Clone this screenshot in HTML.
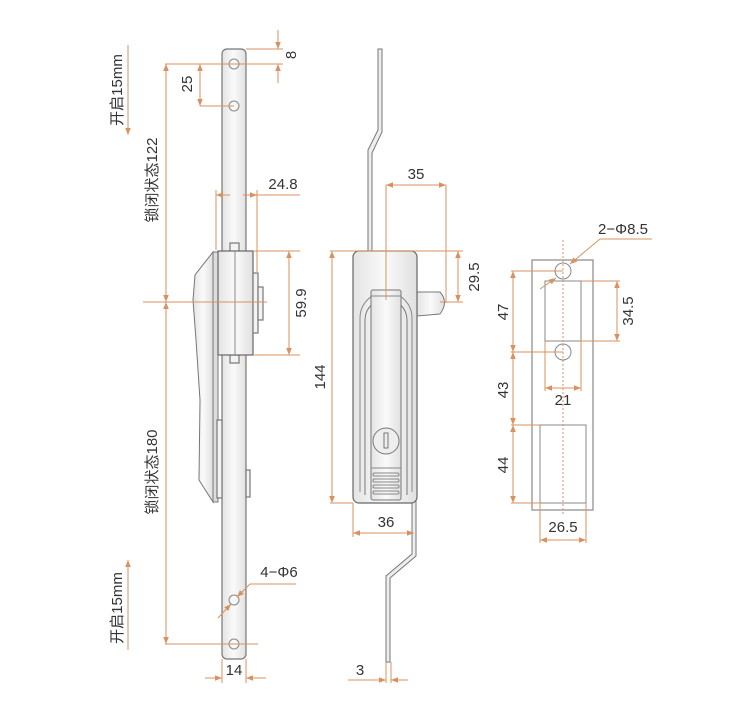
<!DOCTYPE html>
<html><head><meta charset="utf-8"><style>
html,body{margin:0;padding:0;background:#fff;}
svg{display:block;}
text{font-family:"Liberation Sans","Noto Sans CJK SC",sans-serif;fill:#333;font-size:15px;}
.d{stroke:#d9925f;stroke-width:1;fill:none;}
.o{stroke:#777;stroke-width:1.2;fill:#f3f3f3;}
.l{stroke:#888;stroke-width:1;fill:none;}
</style></head><body>
<svg width="750" height="726" viewBox="0 0 750 726" xmlns="http://www.w3.org/2000/svg">
<defs>
<marker id="a" viewBox="0 0 10 10" refX="10" refY="5" markerWidth="11" markerHeight="7" markerUnits="userSpaceOnUse" orient="auto-start-reverse"><path d="M0,1 L10,5 L0,9z" fill="#d9925f"/></marker>
<linearGradient id="g" x1="0" x2="1"><stop offset="0" stop-color="#e4e4e4"/><stop offset="0.5" stop-color="#fafafa"/><stop offset="1" stop-color="#e0e0e0"/></linearGradient>
</defs>

<!-- LEFT VIEW -->
<rect x="222" y="49" width="24" height="610" rx="5" fill="url(#g)" stroke="#777" stroke-width="1.2"/>
<circle cx="234" cy="64" r="5" class="l"/>
<circle cx="234" cy="106" r="5" class="l"/>
<circle cx="234" cy="600" r="5" class="l"/>
<circle cx="234" cy="644" r="5" class="l"/>
<path d="M213,252 L195,275 L193,300 L196,340 L200,400 L199,480 L213,502 Z" fill="url(#g)" stroke="#777"/>
<rect x="213" y="252" width="5" height="250" fill="#ddd" stroke="#777"/>
<rect x="230" y="243" width="9" height="9" class="o"/>
<rect x="230" y="355" width="9" height="8" class="o"/>
<rect x="218" y="251" width="35" height="104" fill="url(#g)" stroke="#666" stroke-width="1.2"/>
<line x1="235" y1="251" x2="235" y2="355" class="l"/>
<rect x="253" y="273" width="5" height="60" class="o"/>
<rect x="258" y="287" width="5" height="33" class="o"/>
<rect x="217" y="420" width="5" height="78" class="o"/>
<rect x="246" y="470" width="4" height="27" class="o"/>

<!-- left dims -->
<line x1="246" y1="49" x2="283" y2="49" class="d"/>
<line x1="165" y1="64" x2="283" y2="64" class="d"/>
<line x1="278" y1="30" x2="278" y2="49" class="d" marker-end="url(#a)"/>
<line x1="278" y1="83" x2="278" y2="64" class="d" marker-end="url(#a)"/>
<text transform="translate(296,55) rotate(-90)" text-anchor="middle">8</text>
<line x1="200" y1="106" x2="234" y2="106" class="d"/>
<line x1="200" y1="64" x2="200" y2="106" class="d" marker-start="url(#a)" marker-end="url(#a)"/>
<text transform="translate(192,84) rotate(-90)" text-anchor="middle">25</text>
<line x1="128" y1="45" x2="128" y2="135" class="d" marker-end="url(#a)"/>
<text transform="translate(122,90) rotate(-90)" text-anchor="middle">开启15mm</text>
<line x1="128" y1="650" x2="128" y2="560" class="d" marker-end="url(#a)"/>
<text transform="translate(122,608) rotate(-90)" text-anchor="middle">开启15mm</text>
<line x1="166" y1="64" x2="166" y2="302" class="d" marker-start="url(#a)" marker-end="url(#a)"/>
<line x1="166" y1="302" x2="166" y2="644" class="d" marker-start="url(#a)" marker-end="url(#a)"/>
<text transform="translate(157,180) rotate(-90)" text-anchor="middle">锁闭状态122</text>
<text transform="translate(157,472) rotate(-90)" text-anchor="middle">锁闭状态180</text>
<line x1="143" y1="302" x2="267" y2="302" class="d"/>
<line x1="165" y1="644" x2="258" y2="644" class="d"/>
<line x1="216" y1="190" x2="216" y2="250" class="d"/>
<line x1="257" y1="190" x2="257" y2="272" class="d"/>
<line x1="230" y1="195" x2="216" y2="195" class="d" marker-end="url(#a)"/>
<line x1="243" y1="195" x2="257" y2="195" class="d" marker-end="url(#a)"/>
<line x1="257" y1="195" x2="300" y2="195" class="d"/>
<text x="283" y="189" text-anchor="middle">24.8</text>
<line x1="253" y1="251" x2="300" y2="251" class="d"/>
<line x1="253" y1="355" x2="300" y2="355" class="d"/>
<line x1="289" y1="251" x2="289" y2="355" class="d" marker-start="url(#a)" marker-end="url(#a)"/>
<text transform="translate(306,303) rotate(-90)" text-anchor="middle">59.9</text>
<line x1="222" y1="659" x2="222" y2="683" class="d"/>
<line x1="246" y1="659" x2="246" y2="683" class="d"/>
<line x1="205" y1="678" x2="222" y2="678" class="d" marker-end="url(#a)"/>
<line x1="266" y1="678" x2="246" y2="678" class="d" marker-end="url(#a)"/>
<text x="234" y="675" text-anchor="middle">14</text>
<line x1="296" y1="584" x2="250" y2="584" class="d"/>
<line x1="250" y1="584" x2="237" y2="597" class="d" marker-end="url(#a)"/>
<line x1="218" y1="618" x2="231" y2="604" class="d" marker-end="url(#a)"/>
<text x="279" y="577" text-anchor="middle">4−Φ6</text>

<!-- MIDDLE VIEW -->
<path d="M378,49 L382,49 L382,132 L372,153 L372,252 L368,252 L368,150 L378,130 Z" fill="#eee" stroke="#777"/>
<path d="M412,500 L416,500 L416,556 L390,578 L390,662 L386,662 L386,576 L412,554 Z" fill="#eee" stroke="#777"/>
<path d="M417,292 L440,292 Q449,302 440,314 L417,316 Z" fill="url(#g)" stroke="#777"/>
<rect x="353" y="251" width="64" height="252" rx="6" fill="url(#g)" stroke="#666" stroke-width="1.2"/>
<path d="M360,492 L360,318 A26,26 0 1 1 412,318 L412,492" fill="none" stroke="#888"/>
<path d="M365,495 L365,320 A21,21 0 1 1 407,320 L407,495" fill="none" stroke="#777"/>
<rect x="371" y="290" width="30" height="210" rx="2" fill="url(#g)" stroke="#777"/>
<line x1="371" y1="296" x2="401" y2="296" class="l"/>
<line x1="371" y1="468" x2="401" y2="468" class="l"/>
<circle cx="386" cy="441" r="13" fill="#eee" stroke="#777"/>
<rect x="384" y="433" width="4" height="15" fill="none" stroke="#777"/>
<g stroke="#888" fill="none"><rect x="373" y="473" width="26" height="3" rx="1.5"/><rect x="373" y="479" width="26" height="3" rx="1.5"/><rect x="373" y="485" width="26" height="3" rx="1.5"/><rect x="373" y="491" width="26" height="3" rx="1.5"/></g>

<line x1="386" y1="185" x2="386" y2="300" class="d"/>
<line x1="446" y1="185" x2="446" y2="303" class="d"/>
<line x1="386" y1="185" x2="446" y2="185" class="d" marker-start="url(#a)" marker-end="url(#a)"/>
<text x="416" y="179" text-anchor="middle">35</text>
<line x1="330" y1="251" x2="463" y2="251" class="d"/>
<line x1="440" y1="302" x2="463" y2="302" class="d"/>
<line x1="458" y1="251" x2="458" y2="302" class="d" marker-start="url(#a)" marker-end="url(#a)"/>
<text transform="translate(479,277) rotate(-90)" text-anchor="middle">29.5</text>
<line x1="332" y1="251" x2="332" y2="503" class="d" marker-start="url(#a)" marker-end="url(#a)"/>
<line x1="330" y1="503" x2="353" y2="503" class="d"/>
<text transform="translate(325,377) rotate(-90)" text-anchor="middle">144</text>
<line x1="353" y1="503" x2="353" y2="537" class="d"/>
<line x1="353" y1="533" x2="414" y2="533" class="d" marker-start="url(#a)" marker-end="url(#a)"/>
<text x="386" y="527" text-anchor="middle">36</text>
<line x1="386" y1="662" x2="386" y2="683" class="d"/>
<line x1="391" y1="662" x2="391" y2="683" class="d"/>
<line x1="348" y1="680" x2="386" y2="680" class="d" marker-end="url(#a)"/>
<line x1="408" y1="680" x2="391" y2="680" class="d" marker-end="url(#a)"/>
<text x="360" y="675" text-anchor="middle">3</text>

<!-- RIGHT VIEW -->
<rect x="532" y="260" width="61" height="250" fill="#fff" stroke="#888" stroke-width="1.2"/>
<rect x="545" y="281" width="36" height="60" fill="#fff" stroke="#888"/>
<rect x="540" y="425" width="46" height="78" fill="#fff" stroke="#888"/>
<line x1="563" y1="240" x2="563" y2="515" class="d" stroke-dasharray="2,2"/>
<circle cx="563" cy="271" r="8" fill="none" stroke="#888"/>
<circle cx="563" cy="352" r="8" fill="none" stroke="#888"/>
<line x1="511" y1="271" x2="563" y2="271" class="d"/>
<line x1="511" y1="352" x2="563" y2="352" class="d"/>
<line x1="511" y1="425" x2="540" y2="425" class="d"/>
<line x1="511" y1="503" x2="540" y2="503" class="d"/>
<line x1="513" y1="271" x2="513" y2="352" class="d" marker-start="url(#a)" marker-end="url(#a)"/>
<line x1="513" y1="352" x2="513" y2="425" class="d" marker-start="url(#a)" marker-end="url(#a)"/>
<line x1="513" y1="425" x2="513" y2="503" class="d" marker-start="url(#a)" marker-end="url(#a)"/>
<text transform="translate(508,312) rotate(-90)" text-anchor="middle">47</text>
<text transform="translate(508,390) rotate(-90)" text-anchor="middle">43</text>
<text transform="translate(508,465) rotate(-90)" text-anchor="middle">44</text>
<line x1="581" y1="281" x2="620" y2="281" class="d"/>
<line x1="581" y1="341" x2="620" y2="341" class="d"/>
<line x1="617" y1="281" x2="617" y2="341" class="d" marker-start="url(#a)" marker-end="url(#a)"/>
<text transform="translate(633,311) rotate(-90)" text-anchor="middle">34.5</text>
<line x1="545" y1="341" x2="545" y2="391" class="d"/>
<line x1="581" y1="341" x2="581" y2="391" class="d"/>
<line x1="545" y1="388" x2="581" y2="388" class="d" marker-start="url(#a)" marker-end="url(#a)"/>
<text x="563" y="405" text-anchor="middle">21</text>
<line x1="540" y1="503" x2="540" y2="543" class="d"/>
<line x1="586" y1="503" x2="586" y2="543" class="d"/>
<line x1="540" y1="540" x2="586" y2="540" class="d" marker-start="url(#a)" marker-end="url(#a)"/>
<text x="563" y="532" text-anchor="middle">26.5</text>
<line x1="652" y1="239" x2="600" y2="239" class="d"/>
<line x1="600" y1="239" x2="570" y2="264" class="d" marker-end="url(#a)"/>
<line x1="540" y1="289" x2="556" y2="278" class="d" marker-end="url(#a)"/>
<text x="623" y="234" text-anchor="middle">2−Φ8.5</text>
</svg>
</body></html>
